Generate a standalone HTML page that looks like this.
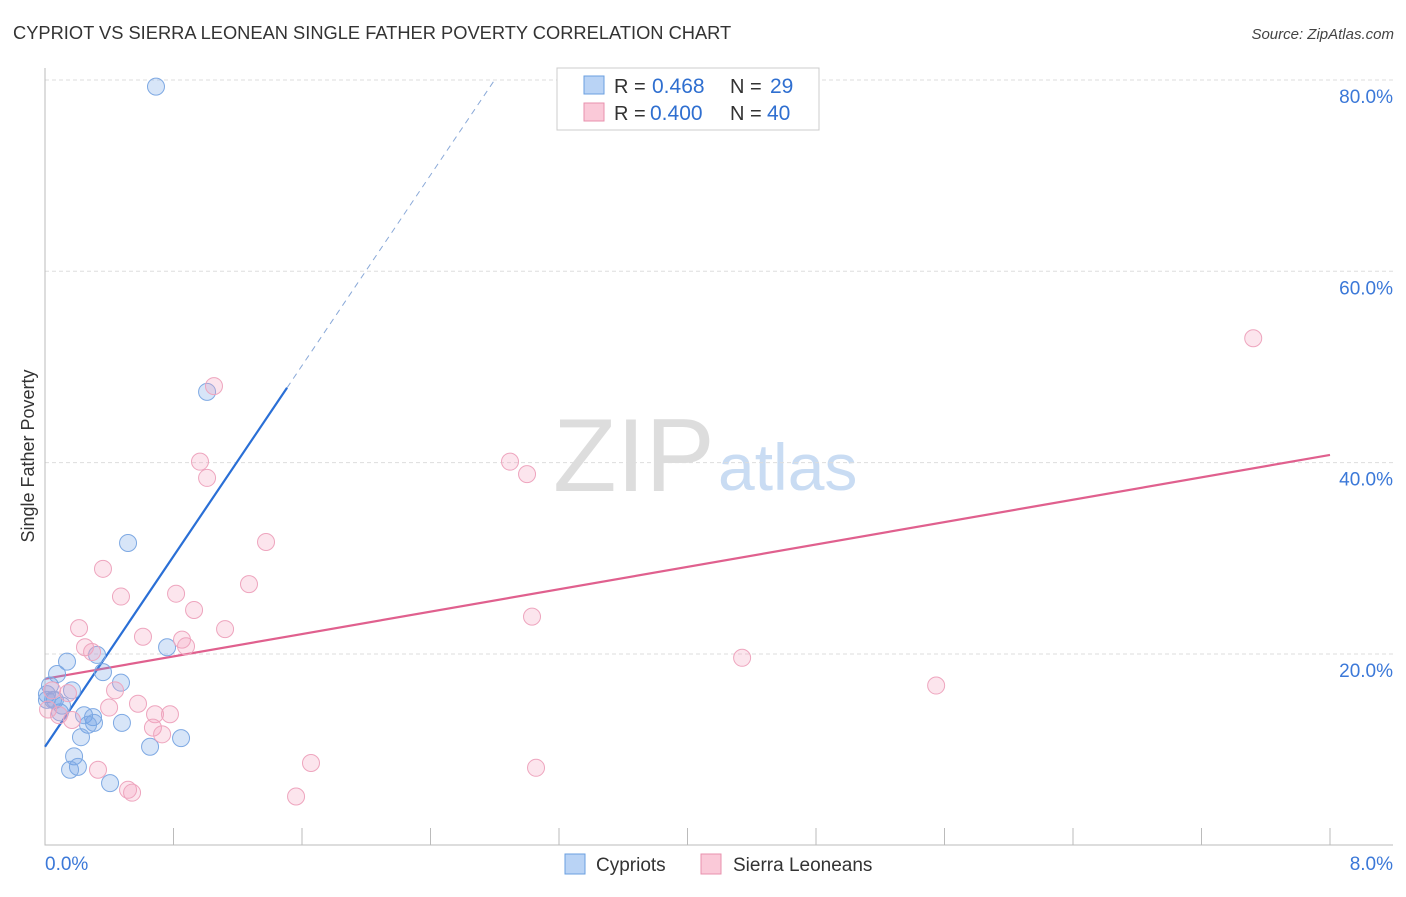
<!DOCTYPE html>
<html><head><meta charset="utf-8"><style>
body{margin:0;background:#fff;font-family:"Liberation Sans",sans-serif;}
svg text{font-family:"Liberation Sans",sans-serif;}
</style></head><body>
<svg id="chart" width="1406" height="892" viewBox="0 0 1406 892" xmlns="http://www.w3.org/2000/svg">
<text x="13" y="39" font-size="18.3" fill="#333">CYPRIOT VS SIERRA LEONEAN SINGLE FATHER POVERTY CORRELATION CHART</text>
<text x="1394" y="39" font-size="15" fill="#444" text-anchor="end" font-style="italic">Source: ZipAtlas.com</text>
<text x="553" y="491" font-size="104" fill="#ddd" font-family="Liberation Serif">ZIP</text>
<text x="718" y="490" font-size="66" fill="#c9dcf3">atlas</text>
<text transform="translate(34,456) rotate(-90)" font-size="18" fill="#333" text-anchor="middle">Single Father Poverty</text>
<g id="grid"></g><g id="axes"></g><g id="trend"></g><g id="pts"></g>
<g>
<rect x="557" y="68" width="262" height="62" fill="#fff" stroke="#ccc"/>
<rect x="584" y="76" width="20" height="18" fill="#b9d3f5" stroke="#6a9fe0"/>
<text x="614" y="93" font-size="20" fill="#333">R =</text>
<text x="652" y="93" font-size="21" fill="#2f6fd0">0.468</text>
<text x="730" y="93" font-size="20" fill="#333">N =</text>
<text x="770" y="93" font-size="21" fill="#2f6fd0">29</text>
<rect x="584" y="103" width="20" height="18" fill="#fac9d8" stroke="#e891ae"/>
<text x="614" y="120" font-size="20" fill="#333">R =</text>
<text x="650" y="120" font-size="21" fill="#2f6fd0">0.400</text>
<text x="730" y="120" font-size="20" fill="#333">N =</text>
<text x="767" y="120" font-size="21" fill="#2f6fd0">40</text>
</g>
<g>
<rect x="565" y="854" width="20" height="20" fill="#b9d3f5" stroke="#6a9fe0"/>
<text x="596" y="871" font-size="19" fill="#333">Cypriots</text>
<rect x="701" y="854" width="20" height="20" fill="#fac9d8" stroke="#e891ae"/>
<text x="733" y="871" font-size="19" fill="#333">Sierra Leoneans</text>
</g>
</svg>
<script>
const yTicks=[20,40,60,80];
const yTickLabels=["20.0%","40.0%","60.0%","80.0%"];
const xEndLabels=["0.0%","8.0%"];
const cypX=[0.691,1.009,0.517,0.760,0.324,0.137,0.075,0.361,0.473,0.168,0.031,0.012,0.062,0.093,0.243,0.299,0.305,0.268,0.479,0.224,0.654,0.847,0.181,0.205,0.156,0.405,0.050,0.012,0.106];
const cypY=[79.3,47.4,31.6,20.7,19.9,19.2,17.9,18.1,17.0,16.2,16.7,15.8,15.2,13.9,13.6,13.4,12.8,12.6,12.8,11.3,10.3,11.2,9.3,8.2,7.9,6.5,15.2,15.2,14.6];
const sleX=[7.522,1.052,0.965,1.009,2.895,3.001,1.376,0.361,0.473,1.270,0.816,0.928,0.212,3.032,0.610,1.121,0.249,0.293,0.853,0.878,4.340,5.548,0.436,0.143,0.399,0.579,0.685,0.778,0.672,0.729,0.087,0.168,0.019,0.330,0.517,0.542,1.656,3.057,1.563,0.044];
const sleY=[53.0,48.0,40.1,38.4,40.1,38.8,31.7,28.9,26.0,27.3,26.3,24.6,22.7,23.9,21.8,22.6,20.7,20.2,21.5,20.8,19.6,16.7,16.2,15.9,14.4,14.8,13.7,13.7,12.3,11.6,13.6,13.1,14.2,7.9,5.8,5.5,8.6,8.1,5.1,16.2];
const cypTrend=[10.3,24.9]; // intercept, slope
const sleTrend=[17.4,2.925];
const NS="http://www.w3.org/2000/svg";
const X=v=>45+v*160.625, Y=v=>845.3-v*9.567;
function mk(t,a,p){const e=document.createElementNS(NS,t);for(const k in a)e.setAttribute(k,a[k]);p.appendChild(e);return e;}
const grid=document.getElementById('grid'),axes=document.getElementById('axes'),trend=document.getElementById('trend'),pts=document.getElementById('pts');
yTicks.forEach((t,i)=>{
 const l=mk('line',{x1:45,x2:1393,y1:Y(t),y2:Y(t),stroke:'#ddd','stroke-dasharray':'4,3'},grid);
 
 
 const tx=mk('text',{x:1393,y:Y(t)+23,'font-size':19,fill:'#3b78d8','text-anchor':'end'},grid);
 tx.textContent=yTickLabels[i];
 
 
});
const ax=mk('path',{d:'M45,68V845H1393',stroke:'#bbb',fill:'none'},axes);


for(let i=0;i<=10;i++){const tk=mk('line',{x1:X(i*0.8),x2:X(i*0.8),y1:828,y2:845,stroke:'#bbb'},axes);
 
 }
[[0,'start',45],[1,'end',1393]].forEach(([i,a,x])=>{const t=mk('text',{x:x,y:870,'font-size':19,fill:'#3b78d8','text-anchor':a},axes);t.textContent=xEndLabels[i];
 
 });
const xs=1.507, xe=(80-cypTrend[0])/cypTrend[1];
const b1=mk('line',{x1:X(0),y1:Y(cypTrend[0]),x2:X(xs),y2:Y(cypTrend[0]+cypTrend[1]*xs),stroke:'#2a6fd6','stroke-width':2.2},trend);


const b2=mk('line',{x1:X(xs),y1:Y(cypTrend[0]+cypTrend[1]*xs),x2:X(xe),y2:Y(80),stroke:'#8aa9d8','stroke-width':1,'stroke-dasharray':'6,5'},trend);


const p1=mk('line',{x1:X(0),y1:Y(sleTrend[0]),x2:X(8),y2:Y(sleTrend[0]+sleTrend[1]*8),stroke:'#e0608e','stroke-width':2.2},trend);


cypX.forEach((x,i)=>{const c=mk('circle',{cx:X(x),cy:Y(cypY[i]),r:8.5,fill:'rgba(110,160,230,0.28)',stroke:'#7ea9e3','stroke-width':1},pts);
 
 });
sleX.forEach((x,i)=>{const c=mk('circle',{cx:X(x),cy:Y(sleY[i]),r:8.5,fill:'rgba(245,160,190,0.28)',stroke:'#eea5be','stroke-width':1},pts);
 
 });
</script>
</body></html>
